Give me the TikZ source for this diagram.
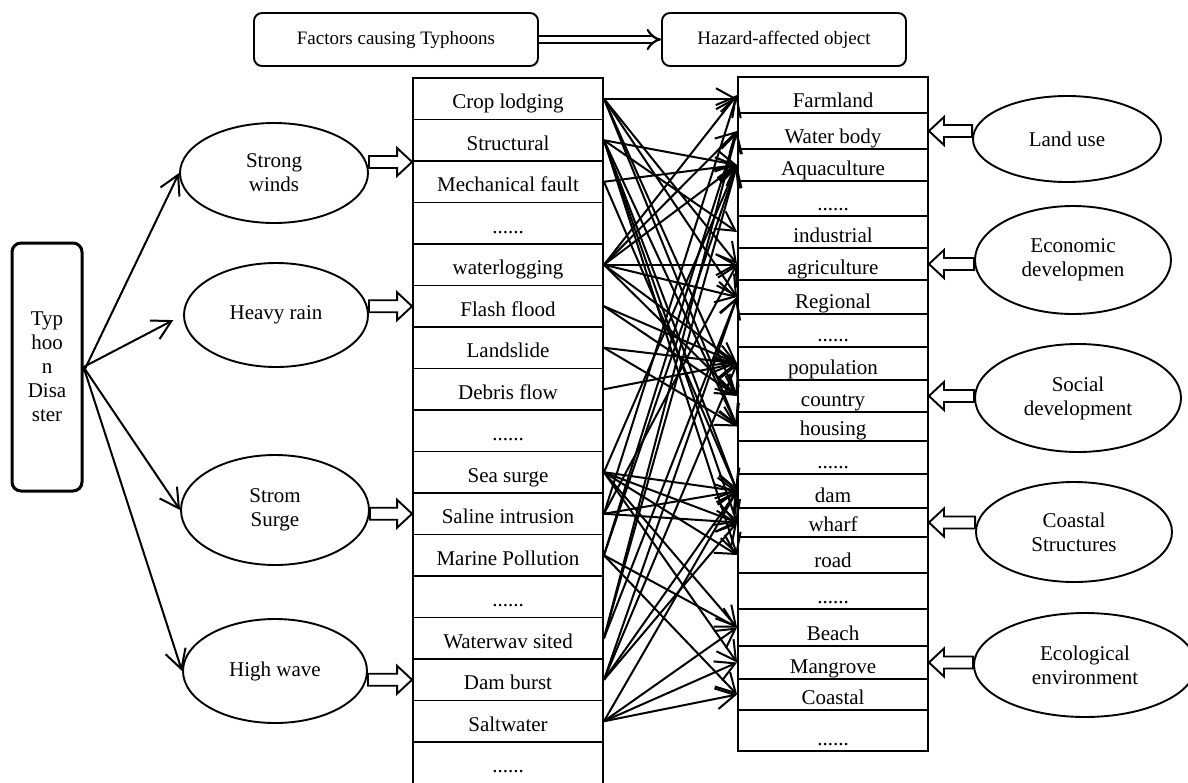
\documentclass[tikz,border=0pt]{standalone}
\usepackage{fontspec}
\setmainfont{Liberation Serif}
\usetikzlibrary{arrows.meta,shapes.geometric,calc}
\newcommand\cellfont{\fontsize{21}{24}\selectfont}
\newcommand\topfont{\fontsize{19}{24}\selectfont}
\newcommand\sixdots{......}
% hollow block arrow pointing right: shaft from x of #1 to x of #2, at y of #2
\newcommand\rblock[2]{%
  \filldraw[harrow] let \p1=(#1), \p2=(#2) in
   (\x1,\y2+6pt) -- (\x2-15pt,\y2+6pt) -- (\x2-15pt,\y2+14pt) -- (\x2,\y2)
   -- (\x2-15pt,\y2-14pt) -- (\x2-15pt,\y2-6pt) -- (\x1,\y2-6pt) -- cycle;}
% hollow block arrow pointing left
\newcommand\lblock[2]{%
  \filldraw[harrow] let \p1=(#1), \p2=(#2) in
   (\x1,\y2+6pt) -- (\x2+15pt,\y2+6pt) -- (\x2+15pt,\y2+14pt) -- (\x2,\y2)
   -- (\x2+15pt,\y2-14pt) -- (\x2+15pt,\y2-6pt) -- (\x1,\y2-6pt) -- cycle;}
\begin{document}
\begin{tikzpicture}[x=1pt,y=-1pt,
  topbox/.style={draw, line width=1.9pt, rounded corners=8pt, font=\topfont, inner sep=0pt},
  tybox/.style={draw, line width=3pt, rounded corners=9pt, font=\cellfont, align=center,
     minimum width=70pt, minimum height=248pt, inner sep=0pt},
  ell/.style={draw, ellipse, line width=1.9pt, font=\cellfont, align=center, inner sep=0pt},
  lrow/.style={draw, line width=1.9pt, minimum width=190pt, minimum height=41.5pt,
     inner ysep=0pt, text height=30.5pt, text depth=11pt, font=\cellfont},
  rrow/.style={draw, line width=1.9pt, minimum width=190pt, inner ysep=0pt, font=\cellfont},
  conn/.style={line width=2pt, -{Straight Barb[length=19pt,width=21pt]}},
  harrow/.style={fill=white, draw, line width=1.9pt, line join=miter},
  dbl/.style={line width=2.2pt, double, double distance=5pt, -{Implies}}
]
\useasboundingbox (0,0) rectangle (1188,782);

% top boxes
\node[topbox, minimum width=284pt, minimum height=53pt] (fac) at (396,39.5) {Factors causing Typhoons};
\node[topbox, minimum width=244pt, minimum height=53pt] (haz) at (784,39.5) {Hazard-affected object};
\draw[dbl] (fac.east) -- (haz.west);

% typhoon disaster
\node[tybox] (ty) at (47,367) {Typ\\hoo\\n\\Disa\\ster};

% left ellipses
\node[ell, minimum width=188pt, minimum height=100pt] (sw) at (274,173) {Strong\\winds};
\node[ell, minimum width=184pt, minimum height=104pt] (hr) at (276,315) {Heavy rain};
\node[ell, minimum width=188pt, minimum height=110pt] (ss) at (275,510) {Strom\\Surge};
\node[ell, minimum width=184pt, minimum height=104pt] (hw) at (275,671) {High wave};

\draw[conn] ([yshift=-5pt]ty.east) -- (sw.west);
\draw[conn, shorten >=11pt] (ty.east) -- (hr.west);
\draw[conn] (ty.east) -- (ss.west);
\draw[conn] (ty.east) -- (hw.west);

% left column
\foreach \t [count=\i] in {Crop lodging, Structural, Mechanical fault, \sixdots, waterlogging,
   Flash flood, Landslide, Debris flow, \sixdots, Sea surge, Saline intrusion, Marine Pollution,
   \sixdots, Waterwav sited, Dam burst, Saltwater, \sixdots}
  \node[lrow] (l\i) at (508, {78+41.5*(\i-1)+20.75}) {\t};

% right column
\foreach \t/\a/\b [count=\i] in {Farmland/77/113, Water body/113/149, Aquaculture/149/181,
   \sixdots/181/216, industrial/216/248, agriculture/248/280, Regional/280/314, \sixdots/314/347,
   population/347/380, country/380/412, housing/412/441, \sixdots/441/474, dam/474/508,
   wharf/508/537, road/537/573, \sixdots/573/609, Beach/609/646, Mangrove/646/679,
   Coastal/679/710, \sixdots/710/751}{
  \pgfmathsetmacro\hr{\b-\a}
  \pgfmathsetmacro\th{\b-\a-6}
  \node[rrow, minimum height=\hr pt, text height=\th pt, text depth=6pt] (r\i) at (833, {(\a+\b)/2}) {\t};
}

% right ellipses
\node[ell, minimum width=188pt, minimum height=86pt] (lu) at (1067,139) {Land use};
\node[ell, minimum width=196pt, minimum height=108pt] (ed) at (1073,260) {Economic\\developmen};
\node[ell, minimum width=206pt, minimum height=108pt] (sd) at (1078,398) {Social\\development};
\node[ell, minimum width=196pt, minimum height=100pt] (cs) at (1074,532) {Coastal\\Structures};
\node[ell, minimum width=222pt, minimum height=104pt] (ee) at (1085,665) {Ecological\\environment};

% hollow arrows
\rblock{sw.east}{l2.south west}
\rblock{hr.east}{l6.west}
\rblock{ss.east}{l11.west}
\rblock{hw.east}{l15.west}
\lblock{lu.west}{r2.east}
\lblock{ed.west}{r6.east}
\lblock{sd.west}{r10.east}
\lblock{cs.west}{r14.east}
\lblock{ee.west}{r18.east}

% connectors
\draw[conn] (l1.east) -- (l1.east -| r1.west);
\draw[conn] (l5.east) -- (l5.east -| r6.west);
\foreach \s/\t in {1/6, 1/7, 1/10, 1/11,
   2/3, 2/5, 2/11, 2/13, 2/14, 2/15,
   3/3, 3/13,
   5/1, 5/2, 5/3, 5/7, 5/9, 5/10,
   6/10, 6/9, 7/9, 7/11, 8/9,
   10/3, 10/13, 10/14, 10/15, 10/17, 10/18,
   11/1, 11/6, 11/13, 11/14,
   12/2, 12/3, 12/17, 12/19,
   14/2, 14/3, 14/7,
   15/9, 15/13, 15/14, 15/7,
   16/13, 16/17, 16/18, 16/19}
  \draw[conn] (l\s.east) -- (r\t.west);
\end{tikzpicture}
\end{document}
